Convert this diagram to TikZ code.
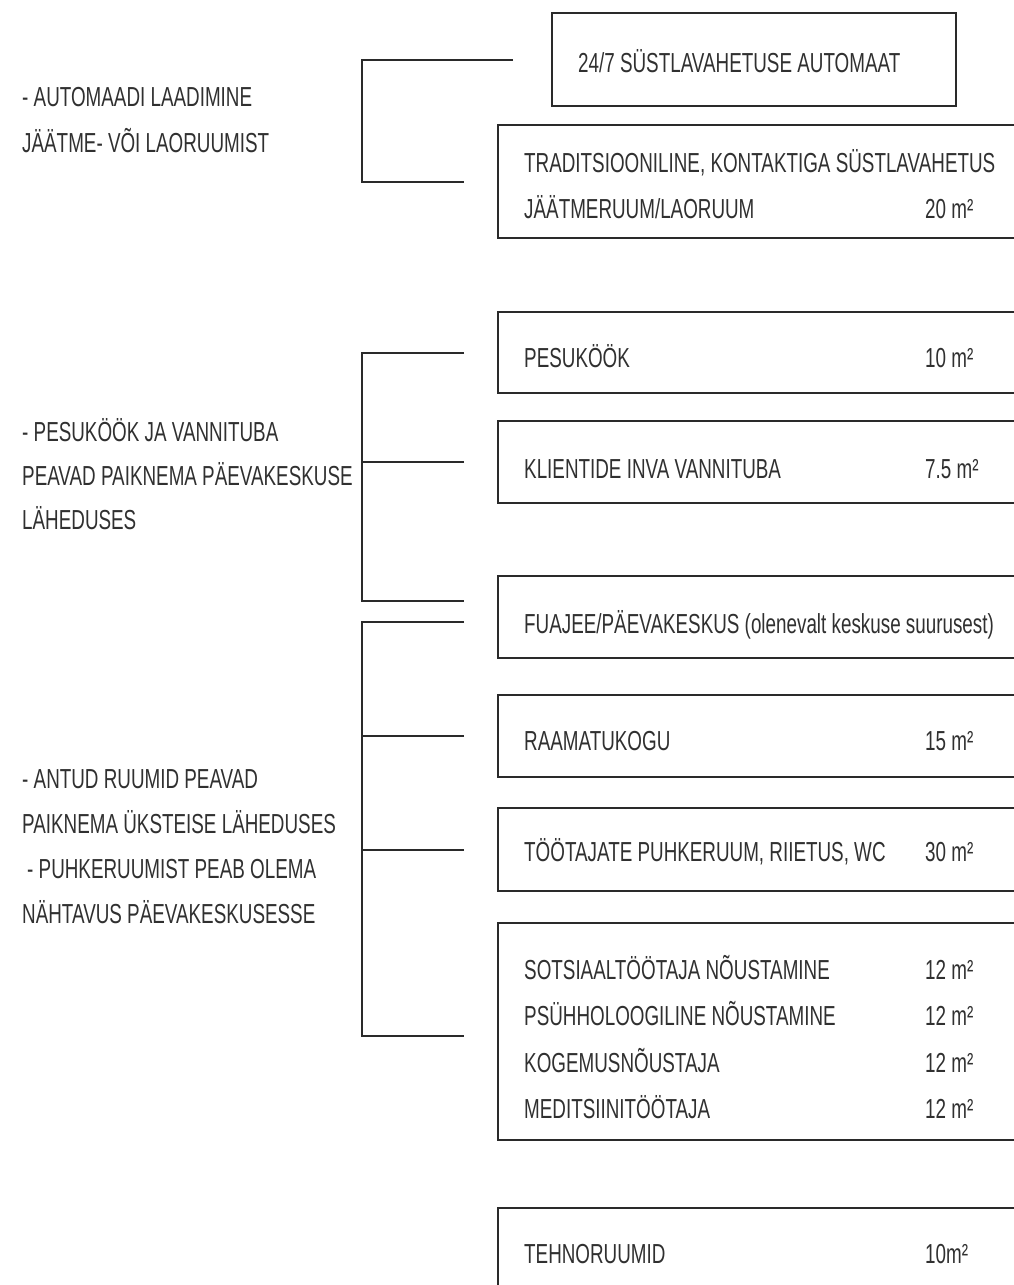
\documentclass[tikz,border=0pt]{standalone}
\usepackage{fontspec}
\setmainfont{Liberation Sans}[FakeStretch=0.685]
\definecolor{linec}{HTML}{2A2A2A}
\definecolor{textc}{HTML}{303030}
\begin{document}
\begin{tikzpicture}[x=1pt,y=-1pt,
  roombox/.style={draw=linec, line width=2.3pt, anchor=north west, inner sep=0pt},
  txt/.style={anchor=base west, inner sep=0pt, text=textc, font=\fontsize{27.5}{28}\selectfont},
  link/.style={draw=linec, line width=2.3pt}]
\useasboundingbox (0,0) rectangle (1014,1285);
\clip (0,0) rectangle (1014,1285);
% boxes
\node[roombox, minimum width=404, minimum height=93] (b1) at (551,12) {};
\node[roombox, minimum width=560, minimum height=113] (b2) at (497,124) {};
\node[roombox, minimum width=560, minimum height=81] (b3) at (497,311) {};
\node[roombox, minimum width=560, minimum height=82] (b4) at (497,420) {};
\node[roombox, minimum width=560, minimum height=82] (b5) at (497,575) {};
\node[roombox, minimum width=560, minimum height=82] (b6) at (497,694) {};
\node[roombox, minimum width=560, minimum height=83] (b7) at (497,807) {};
\node[roombox, minimum width=560, minimum height=217] (b8) at (497,922) {};
\node[roombox, minimum width=560, minimum height=113] (b9) at (497,1207) {};
% box texts
\node[txt] (t1) at (578,72) {24/7 SÜSTLAVAHETUSE AUTOMAAT};
\node[txt] (t2a) at (524,172) {TRADITSIOONILINE, KONTAKTIGA SÜSTLAVAHETUS};
\node[txt] (t2b) at (524,218) {JÄÄTMERUUM/LAORUUM};
\node[txt] (a2) at (925,218) {20 m²};
\node[txt] (t3) at (524,367) {PESUKÖÖK};
\node[txt] (a3) at (925,367) {10 m²};
\node[txt] (t4) at (524,478) {KLIENTIDE INVA VANNITUBA};
\node[txt] (a4) at (925,478) {7.5 m²};
\node[txt] (t5) at (524,633) {FUAJEE/PÄEVAKESKUS (olenevalt keskuse suurusest)};
\node[txt] (t6) at (524,750) {RAAMATUKOGU};
\node[txt] (a6) at (925,750) {15 m²};
\node[txt] (t7) at (524,861) {TÖÖTAJATE PUHKERUUM, RIIETUS, WC};
\node[txt] (a7) at (925,861) {30 m²};
\node[txt] (t8a) at (524,979) {SOTSIAALTÖÖTAJA NÕUSTAMINE};
\node[txt] (a8a) at (925,979) {12 m²};
\node[txt] (t8b) at (524,1025) {PSÜHHOLOOGILINE NÕUSTAMINE};
\node[txt] (a8b) at (925,1025) {12 m²};
\node[txt] (t8c) at (524,1072) {KOGEMUSNÕUSTAJA};
\node[txt] (a8c) at (925,1072) {12 m²};
\node[txt] (t8d) at (524,1118) {MEDITSIINITÖÖTAJA};
\node[txt] (a8d) at (925,1118) {12 m²};
\node[txt] (t9) at (524,1263) {TEHNORUUMID};
\node[txt] (a9) at (925,1263) {10m²};
% left notes
\node[txt] (n1a) at (22,106) {- AUTOMAADI LAADIMINE};
\node[txt] (n1b) at (22,152) {JÄÄTME- VÕI LAORUUMIST};
\node[txt] (n2a) at (22,441) {- PESUKÖÖK JA VANNITUBA};
\node[txt] (n2b) at (22,485) {PEAVAD PAIKNEMA PÄEVAKESKUSE};
\node[txt] (n2c) at (22,529) {LÄHEDUSES};
\node[txt] (n3a) at (22,788) {- ANTUD RUUMID PEAVAD};
\node[txt] (n3b) at (22,833) {PAIKNEMA ÜKSTEISE LÄHEDUSES};
\node[txt] (n3c) at (27,878) {- PUHKERUUMIST PEAB OLEMA};
\node[txt] (n3d) at (22,923) {NÄHTAVUS PÄEVAKESKUSESSE};
% brackets
\coordinate (v) at (362,0);
\draw[link] ([xshift=-38pt]b1.west) -- (b1.west -| v) |- ([xshift=-33pt]b2.west);
\draw[link] ([xshift=-33pt]b3.west) -- (b3.west -| v) -- ([yshift=16pt]b5.west -| v) -- ([xshift=-33pt,yshift=16pt]b5.west);
\draw[link] ([xshift=-33pt]b4.west) -- (b4.west -| v);
\draw[link] ([xshift=-33pt,yshift=-5pt]b5.west) -- ([yshift=-5pt]b5.west -| v) -- ([yshift=-4.5pt]b8.west -| v) -- ([xshift=-33pt,yshift=-4.5pt]b8.west);
\draw[link] ([xshift=-33pt]b6.west) -- (b6.west -| v);
\draw[link] ([xshift=-33pt]b7.west) -- (b7.west -| v);
\end{tikzpicture}
\end{document}
